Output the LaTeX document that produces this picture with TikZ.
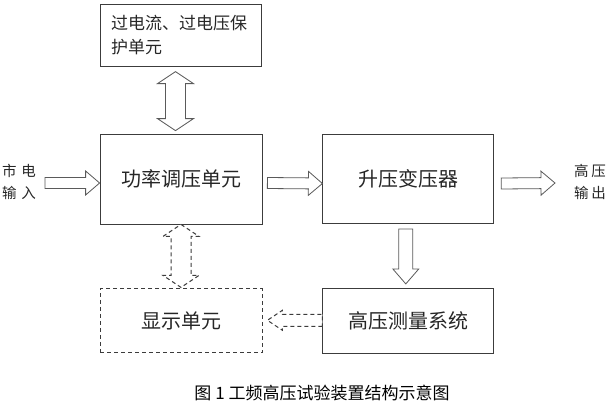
\documentclass[tikz,border=0pt]{standalone}
\usepackage{fontspec}
\setmainfont{Noto Sans CJK SC}
\usepackage{tikz}
\usetikzlibrary{positioning, calc}
\definecolor{boxline}{HTML}{3C3C3C}
\definecolor{arrowline}{HTML}{5A5A5A}
\definecolor{inktext}{HTML}{262626}

% hollow arrow: [opts]{from}{to}{shaft half width}{head half width}{head length}
\newcommand{\hollowarrow}[6][]{%
  \coordinate (ha-m) at ($(#3)!#6!(#2)$);
  \draw[blockarrow,#1] ($(#2)!#4!90:(#3)$) -- ($(ha-m)!#4!90:(#3)$) -- ($(ha-m)!#5!90:(#3)$) -- (#3)
    -- ($(ha-m)!#5!-90:(#3)$) -- ($(ha-m)!#4!-90:(#3)$) -- ($(#2)!#4!-90:(#3)$) -- cycle;
}
% hollow double arrow, same arguments
\newcommand{\hollowdarrow}[6][]{%
  \coordinate (ha-m) at ($(#2)!#6!(#3)$);
  \coordinate (ha-n) at ($(#3)!#6!(#2)$);
  \draw[blockarrow,#1] (#2) -- ($(ha-m)!#5!90:(#3)$) -- ($(ha-m)!#4!90:(#3)$) -- ($(ha-n)!#4!90:(#3)$)
    -- ($(ha-n)!#5!90:(#3)$) -- (#3) -- ($(ha-n)!#5!-90:(#3)$) -- ($(ha-n)!#4!-90:(#3)$)
    -- ($(ha-m)!#4!-90:(#3)$) -- ($(ha-m)!#5!-90:(#3)$) -- cycle;
}

\begin{document}
\begin{tikzpicture}[
        x=1pt, y=-1pt,
        box/.style={
            rectangle,
            draw=boxline,
            line width=0.8pt,
            text=inktext,
            font=\fontsize{20pt}{24pt}\selectfont,
            minimum width=#1,
            align=center,
            inner sep=0pt
        },
        dashbox/.style={box=#1, dash pattern=on 4pt off 3pt},
        blockarrow/.style={draw=arrowline, line width=0.8pt, line join=miter, fill=white},
        dasharrow/.style={draw=boxline, line width=1pt, dash pattern=on 4pt off 3pt},
        sidelabel/.style={text=inktext, font=\fontsize{14.5pt}{22pt}\selectfont, align=center, inner sep=0pt}
    ]

    \useasboundingbox (0,0) rectangle (611,408);

    % Bloque central: regulacion de potencia
    \node[box=162pt, minimum height=90pt] (power) at (181,179) {功率调压单元};

    % Proteccion arriba
    \node[box=161pt, minimum height=62pt, text width=140pt, align=left, above=67pt of power] (protect)
        {\fontsize{17pt}{23pt}\selectfont 过电流、过电压保\\护单元};

    % Transformador elevador
    \node[box=171pt, minimum height=89pt, right=60pt of power] (trans) {升压变压器};

    % Medicion de alta tension
    \node[box=171pt, minimum height=65pt, below=64pt of trans] (measure) {高压测量系统};

    % Unidad de visualizacion (opcional, en linea discontinua)
    \node[dashbox=162pt, minimum height=64pt, below=64pt of power] (display) {显示单元};

    % Entradas y salidas
    \node[sidelabel] (inlbl) at (19,182) {市\hspace{5pt}电\\输\hspace{5pt}入};
    \node[sidelabel] (outlbl) at (590,182) {高\hspace{3pt}压\\输\hspace{3pt}出};
    \coordinate (in) at (45,183);
    \coordinate (out) at (555,183);

    % Conexiones con flechas huecas
    \hollowarrow{in}{$(power.west)+(0,4)$}{5.5pt}{12pt}{14pt}
    \hollowarrow{$(power.east)+(5,4)$}{$(trans.west)+(0,4.5)$}{5.5pt}{12pt}{14pt}
    \hollowarrow{$(trans.east)+(7,4.5)$}{out}{5.5pt}{12pt}{14pt}
    \hollowarrow{$(trans.south)+(-2.5,5)$}{$(measure.north)+(-2.5,-4)$}{7pt}{13pt}{15pt}
    \hollowdarrow{$(protect.south)+(-5.5,5)$}{$(power.north)+(-5.5,-3)$}{10pt}{18pt}{12pt}
    \hollowdarrow[dasharrow]{power.south}{$(display.north)+(0,-1)$}{10pt}{18pt}{12pt}
    \hollowarrow[dasharrow]{$(measure.west)+(0,-0.5)$}{$(display.east)+(5,-0.5)$}{6pt}{10pt}{15pt}

    % Pie de figura
    \node[text=black, font=\fontsize{17pt}{20pt}\selectfont, inner sep=0pt] (caption) at (322,393)
        {图 1 工频高压试验装置结构示意图};

\end{tikzpicture}
\end{document}
